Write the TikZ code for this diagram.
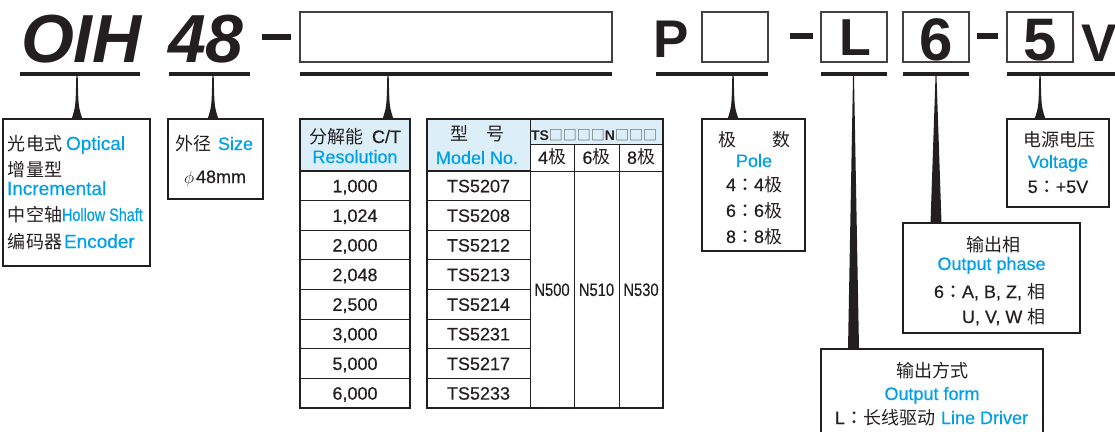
\documentclass[tikz,border=0pt]{standalone}
\usepackage{fontspec}
\setmainfont{Liberation Sans}[UprightFeatures={FakeBold=0.35}]
\newfontfamily\cjk{Noto Sans CJK SC}
\newfontfamily\cjkj{Noto Sans CJK JP}[FakeBold=1]
\newcommand\colonj{{\cjkj ：}}
\usepackage{graphicx}
\usetikzlibrary{calc}
\definecolor{ink}{HTML}{231F20}
\definecolor{cyanb}{HTML}{00A0E9}
\definecolor{hdr}{HTML}{DCEFF9}
\newcommand\fs[1]{\fontsize{#1}{#1}\selectfont}
\newcommand\spikeC[2]{%
  \fill[ink] ($(#1)+(-0.7,0)$) .. controls ($(#1 |- #2.north)+(-1.4,-12)$) .. ($(#1 |- #2.north)+(-5.5,0)$)
    -- ($(#1 |- #2.north)+(5.5,0)$) .. controls ($(#1 |- #2.north)+(1.4,-12)$) .. ($(#1)+(0.7,0)$) -- cycle;}
\newcommand\spikeL[2]{%
  \fill[ink] ($(#1)+(-0.5,0)$) -- ($(#1 |- #2.north)+(-5.5,0)$)
    -- ($(#1 |- #2.north)+(5.5,0)$) -- ($(#1)+(0.5,0)$) -- cycle;}
\begin{document}
\begin{tikzpicture}[x=1pt,y=-1pt,
  txt/.style={inner sep=0pt, outer sep=0pt, text=ink, font=\fs{18}},
  big/.style={inner sep=0pt, outer sep=0pt, text=ink},
  box/.style={draw=ink, line width=1.6pt, fill=white, inner sep=0pt, outer sep=0pt},
  topbox/.style={draw=ink!85, line width=1.3pt, inner sep=0pt, outer sep=0pt},
  bar/.style={fill=ink, inner sep=0pt, outer sep=0pt, minimum height=4pt},
  dashbar/.style={fill=ink, inner sep=0pt, outer sep=0pt, minimum height=6pt},
  cell/.style={draw=ink, line width=0.9pt, inner sep=0pt, outer sep=0pt, text=ink,
    font=\fs{18}, text height=12.9pt, text depth=0pt},
  hcell/.style={draw=ink, line width=0.9pt, fill=hdr, inner sep=0pt, outer sep=0pt}
]
\clip (0,0) rectangle (1115,431);
\fill[white] (0,0) rectangle (1115,431);

% ---------- top code row ----------
\node[big, font=\fs{68}\bfseries\itshape, anchor=base west] (oih) at (21,62) {OIH};
\node[big, font=\fs{68}\bfseries\itshape, anchor=base west] (n48) at (168,62) {48};
\node[dashbar, minimum width=29pt] (d1) at (276.5,37) {};
\node[topbox, minimum width=312pt, minimum height=50pt] (tb1) at (456,37) {};
\node[big, font=\fs{53}\bfseries, anchor=base west] (pp) at (653,57) {P};
\node[topbox, minimum width=66pt, minimum height=50pt] (tb2) at (735,37) {};
\node[dashbar, minimum width=23pt] (d2) at (801.5,36) {};
\node[topbox, minimum width=66pt, minimum height=50pt] (tb3) at (854,37) {};
\node[big, font=\fs{52}\bfseries, anchor=base] (ll) at (855.5,55) {L};
\node[topbox, minimum width=66pt, minimum height=50pt] (tb4) at (936,37) {};
\node[big, font=\fs{60}\bfseries, anchor=base] (six) at (936.5,60.5) {6};
\node[dashbar, minimum width=21pt] (d3) at (987.5,36) {};
\node[topbox, minimum width=66pt, minimum height=50pt] (tb5) at (1040,37) {};
\node[big, font=\fs{60}\bfseries, anchor=base] (five) at (1040,60.5) {5};
\node[big, font=\fs{53}\bfseries, anchor=base west] (vv) at (1081,61) {V};

% ---------- underline bars ----------
\node[bar, minimum width=120pt] (b1) at (80,74) {};
\node[bar, minimum width=81pt] (b2) at (209.5,74) {};
\node[bar, minimum width=312pt] (b3) at (456,74) {};
\node[bar, minimum width=112pt] (b4) at (712,74) {};
\node[bar, minimum width=66pt] (b5) at (854,74) {};
\node[bar, minimum width=66pt] (b6) at (936,74) {};
\node[bar, minimum width=110pt] (b7) at (1062,74) {};

\coordinate (w1) at (77,76);
\coordinate (w2) at (213,76);
\coordinate (w3) at (388,76);
\coordinate (w4) at (733,76);
\coordinate (w5) at (853.5,76);
\coordinate (w6) at (936,76);
\coordinate (w7) at (1040,76);

% ---------- boxes ----------
\node[box, minimum width=147pt, minimum height=147pt] (box1) at (76.5,192.5) {};
\node[box, minimum width=95pt, minimum height=80pt] (box2) at (215.5,159) {};
\node[box, minimum width=103pt, minimum height=132pt] (pole) at (753.5,185) {};
\node[box, minimum width=102pt, minimum height=88pt] (volt) at (1058,163) {};
\node[box, minimum width=177pt, minimum height=110pt] (phase) at (991.5,278) {};
\node[box, minimum width=222pt, minimum height=111pt] (form) at (932,404.5) {};

% ---------- resolution table ----------
\node[hcell, minimum width=110pt, minimum height=52pt] (resh) at (355,145) {};
\foreach \v [count=\i] in {{1,000},{1,024},{2,000},{2,048},{2,500},{3,000},{5,000},{6,000}}
  \node[cell, minimum width=110pt, minimum height=29.625pt] (r\i) at (355,{171+29.625*\i-14.8125}) {\v};
\draw[ink, line width=1.8pt] (resh.north west) rectangle (r8.south east);
\draw[ink, line width=1.6pt] (resh.south west) -- (resh.south east);

% ---------- model table ----------
\node[hcell, minimum width=103pt, minimum height=52pt] (mh) at (478.5,145) {};
\node[hcell, minimum width=133pt, minimum height=25pt] (tsh) at (596.5,131.5) {};
\node[cell, minimum width=44pt, minimum height=27pt] (p4) at (552,157.5) {4{\cjk 极}};
\node[cell, minimum width=45pt, minimum height=27pt] (p6) at (596.5,157.5) {6{\cjk 极}};
\node[cell, minimum width=44pt, minimum height=27pt] (p8) at (641,157.5) {8{\cjk 极}};
\foreach \v [count=\i] in {TS5207,TS5208,TS5212,TS5213,TS5214,TS5231,TS5217,TS5233}
  \node[cell, minimum width=103pt, minimum height=29.625pt] (m\i) at (478.5,{171+29.625*\i-14.8125}) {\v};
\node[cell, minimum width=44pt, minimum height=237pt] (n4) at (552,289.5) {\scalebox{0.82}[1]{N500}};
\node[cell, minimum width=45pt, minimum height=237pt] (n6) at (596.5,289.5) {\scalebox{0.82}[1]{N510}};
\node[cell, minimum width=44pt, minimum height=237pt] (n8) at (641,289.5) {\scalebox{0.82}[1]{N530}};
\draw[ink, line width=1.8pt] (mh.north west) rectangle (n8.south east);
\draw[ink, line width=1.6pt] (mh.south west) -- (mh.south east);

% ---------- connectors (spikes) ----------
\spikeC{w1}{box1}
\spikeC{w2}{box2}
\spikeC{w3}{resh}
\spikeC{w4}{pole}
\spikeL{w5}{form}
\spikeL{w6}{phase}
\spikeC{w7}{volt}

% ---------- texts ----------
\node[txt, anchor=base west] (t1a) at (8,150) {{\cjk 光电式}\hspace{4pt}\textcolor{cyanb}{\fs{19}Optical}};
\node[txt, anchor=base west] (t1b) at (8,176) {\cjk 增量型};
\node[txt, anchor=base west] (t1c) at (7,195) {\textcolor{cyanb}{\fs{19}Incremental}};
\node[txt, anchor=base west] (t1d) at (8,221) {{\cjk 中空轴}\scalebox{0.8}[1]{\textcolor{cyanb}{Hollow Shaft}}};
\node[txt, anchor=base west] (t1e) at (8,248) {{\cjk 编码器}\hspace{2pt}\textcolor{cyanb}{\fs{19}Encoder}};

\node[txt, anchor=base west] (t2a) at (175,150) {{\cjk 外径}\hspace{7pt}\textcolor{cyanb}{Size}};
\node[txt, anchor=base west] (t2b) at (184,183) {$\phi$\hspace{2pt}48mm};

\node[txt, anchor=base] (rh1) at (355,143) {{\cjk 分解能}\hspace{9pt}C/T};
\node[txt, anchor=base, text=cyanb] (rh2) at (355,163) {Resolution};

\node[txt, anchor=base] (mh1) at (477,140) {\cjk 型　号};
\node[txt, anchor=base, text=cyanb] (mh2) at (477,164) {Model No.};
\node[txt, anchor=base west, font=\fs{14}] (ts) at (531,140)
  {\textbf{TS}{\fs{14}\cjk\textcolor{ink!80}{□□□□}}\textbf{N}{\fs{14}\cjk\textcolor{ink!80}{□□□}}};

\node[txt, anchor=base] (pl1) at (754,146) {\cjk 极　　数};
\node[txt, anchor=base, text=cyanb] (pl2) at (754,167) {Pole};
\node[txt, anchor=base] (pl3) at (754,191) {4\colonj 4{\cjk 极}};
\node[txt, anchor=base] (pl4) at (754,217) {6\colonj 6{\cjk 极}};
\node[txt, anchor=base] (pl5) at (754,243) {8\colonj 8{\cjk 极}};

\node[txt, anchor=base] (v1) at (1059,146) {\cjk 电源电压};
\node[txt, anchor=base, text=cyanb] (v2) at (1058,168) {Voltage};
\node[txt, anchor=base] (v3) at (1058,193) {5\colonj +5V};

\node[txt, anchor=base] (o1) at (993,251) {\cjk 输出相};
\node[txt, anchor=base, text=cyanb] (o2) at (991.5,270) {Output phase};
\node[txt, anchor=base west] (o3) at (934,298) {6\colonj A, B, Z, {\cjk 相}};
\node[txt, anchor=base west] (o4) at (962,323) {U, V, W {\cjk 相}};

\node[txt, anchor=base] (f1) at (932,377) {\cjk 输出方式};
\node[txt, anchor=base, text=cyanb] (f2) at (932,400) {Output form};
\node[txt, anchor=base west] (f3) at (835,424) {L\colonj{\cjk 长线驱动}\hspace{6pt}\textcolor{cyanb}{Line Driver}};
\end{tikzpicture}
\end{document}
